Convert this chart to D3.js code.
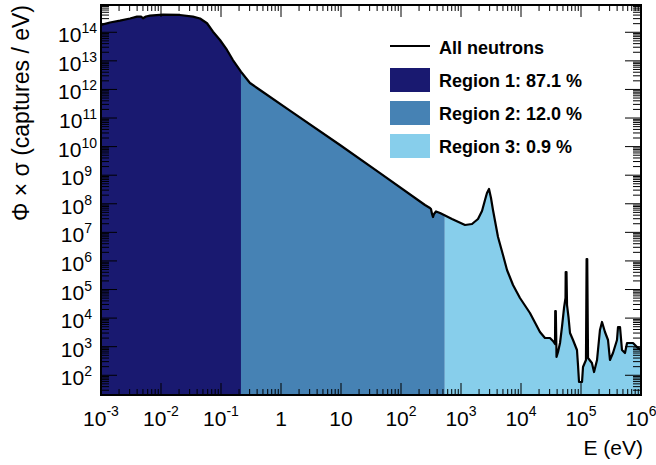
<!DOCTYPE html>
<html><head><meta charset="utf-8">
<script src="https://cdn.jsdelivr.net/npm/d3@7"></script>
<style>body{margin:0;background:#fff}svg{display:block}text{font-family:"Liberation Sans",Arial,Helvetica,sans-serif;fill:#000}</style>
</head><body><svg id="c" width="656" height="465"></svg>
<script>
// ---- data ----
const energyEV = [1.00e-3,1.41e-3,2.07e-3,3.04e-3,3.98e-3,4.65e-3,5.01e-3,5.62e-3,6.56e-3,1.08e-2,2.07e-2,3.41e-2,4.47e-2,5.85e-2,7.36e-2,9.62e-2,0.126,0.158,0.215,0.304,0.447,1.41,9.62,44.7,251,304,316,329,341,355,383,447,708,1167,1525,1920,2239,2512,2710,2930,3162,3412,4140,5012,5848,7362,9616,1.41e4,2.07e4,2.51e4,3.04e4,3.41e4,3.69e4,3.91e4,4.14e4,4.47e4,4.82e4,5.21e4,5.52e4,5.85e4,6.19e4,6.56e4,7.36e4,8.57e4,8.91e4,9.27e4,1.04e5,1.08e5,1.21e5,1.31e5,1.52e5,1.65e5,1.85e5,2.07e5,2.24e5,2.51e5,2.82e5,3.04e5,3.41e5,3.98e5,4.14e5,4.47e5,4.82e5,5.41e5,5.85e5,7.36e5,8.57e5,1.00e6];
const capturesPerEV = [1.80e14,2.20e14,2.55e14,3.04e14,3.52e14,3.57e14,3.09e14,3.57e14,3.81e14,4.13e14,4.03e14,3.52e14,3.04e14,2.07e14,1.05e14,5.37e13,2.40e13,1.07e13,4.17e12,1.68e12,9.55e11,1.81e11,1.14e10,1.19e9,9.06e7,7.11e7,6.56e7,4.39e7,3.44e7,4.39e7,5.37e7,4.75e7,2.93e7,1.81e7,1.96e7,2.93e7,5.58e7,1.36e8,2.38e8,3.29e8,1.59e8,6.05e7,6.89e6,1.61e6,4.82e5,1.44e5,5.05e4,1.51e4,3266,2014,2014,1581,1242,436,652,1346,4887,2.25e4,5.05e4,2.87e4,1.09e4,3013,1714,766,229,58.1,58.1,195,342,402,269,130,342,3837,7311,3266,1714,342,601,1714,4887,4887,766,601,1346,1346,975,766];
// narrow resonance spikes seen only in the "All neutrons" line
const spikeEnergyEV = [3.72e4,3.80e4,5.56e4,5.73e4,1.24e5,1.27e5];
const spikeValues   = [1.77e4,1.77e4,4.10e5,4.10e5,1.17e6,1.17e6];
const regionEdgesEV = [1e-3,0.215,537,1e6];
const regionLabels = ["Region 1: 87.1 %","Region 2: 12.0 %","Region 3: 0.9 %"];
const regionColors = ["#191970","#4682b4","#87ceeb"];
const lineLabel = "All neutrons";
const xMajorTicks = [1e-3,1e-2,1e-1,1,10,1e2,1e3,1e4,1e5,1e6];
const xTickLabels = [["10","-3"],["10","-2"],["10","-1"],["1",""],["10",""],["10","2"],["10","3"],["10","4"],["10","5"],["10","6"]];
const yMajorExponents = [2,3,4,5,6,7,8,9,10,11,12,13,14];
const xTitle = "E (eV)";
const yTitle = "\u03a6 \u00d7 \u03c3 (captures / eV)";

// ---- layout ----
const L=101,R=641,T=5,B=395;
const svg=d3.select("#c");
const x=d3.scaleLog().domain([1e-3,1e6]).range([L,R]);
const y=d3.scaleLog().domain([20.4,9.0e14]).range([B,T]);

const curve=energyEV.map((e,i)=>({E:e,v:capturesPerEV[i]}));
const lineData=curve.concat(spikeEnergyEV.map((e,i)=>({E:e,v:spikeValues[i]}))).sort((a,b)=>a.E-b.E);

const defs=svg.append("defs");
regionColors.forEach((c,i)=>{
  defs.append("clipPath").attr("id","reg"+i).append("rect")
    .attr("x",x(regionEdgesEV[i])).attr("y",T)
    .attr("width",x(regionEdgesEV[i+1])-x(regionEdgesEV[i])).attr("height",B-T);
});
const area=d3.area().x(d=>x(d.E)).y0(B).y1(d=>y(d.v));
regionColors.forEach((c,i)=>{
  svg.append("path").datum(curve).attr("d",area).attr("fill",c).attr("clip-path","url(#reg"+i+")");
});
defs.append("clipPath").attr("id","plot").append("rect").attr("x",L).attr("y",T).attr("width",R-L).attr("height",B-T);
svg.append("path").datum(lineData).attr("d",d3.line().x(d=>x(d.E)).y(d=>y(d.v)))
  .attr("fill","none").attr("stroke","#000").attr("stroke-width",2.2).attr("stroke-linejoin","round")
  .attr("clip-path","url(#plot)");

// ---- ticks ----
const xMinor=[];xMajorTicks.slice(0,-1).forEach(m=>{for(let k=2;k<10;k++)xMinor.push(m*k);});
const yMajor=yMajorExponents.map(n=>Math.pow(10,n));
const yMinor=[];for(let n=1;n<=14;n++)for(let k=2;k<10;k++){const v=k*Math.pow(10,n);if(v>=20.4&&v<=9e14)yMinor.push(v);}
const tk=svg.append("g").attr("stroke","#000").attr("stroke-width",1);
function tickX(vals,len){vals.forEach(v=>{const px=x(v);
  tk.append("line").attr("x1",px).attr("x2",px).attr("y1",B).attr("y2",B-len);
  tk.append("line").attr("x1",px).attr("x2",px).attr("y1",T).attr("y2",T+len);});}
function tickY(vals,len){vals.forEach(v=>{const py=y(v);
  tk.append("line").attr("x1",L).attr("x2",L+len).attr("y1",py).attr("y2",py);
  tk.append("line").attr("x1",R).attr("x2",R-len).attr("y1",py).attr("y2",py);});}
tickX(xMajorTicks,12);tickX(xMinor,6);tickY(yMajor,16);tickY(yMinor,8);

svg.append("rect").attr("x",L).attr("y",T).attr("width",R-L).attr("height",B-T)
  .attr("fill","none").attr("stroke","#000").attr("stroke-width",2);

// ---- labels ----
xMajorTicks.forEach((v,i)=>{
  const t=svg.append("text").attr("x",x(v)).attr("y",426).attr("text-anchor","middle").attr("font-size",21);
  t.append("tspan").text(xTickLabels[i][0]);
  if(xTickLabels[i][1])t.append("tspan").attr("dy",-10).attr("font-size",14).text(xTickLabels[i][1]);
});
yMajorExponents.forEach(n=>{
  const s=String(n);
  const t=svg.append("text").attr("x",92+5*(s.length-1)).attr("y",y(Math.pow(10,n))+10).attr("text-anchor","end").attr("font-size",21);
  t.append("tspan").text("10");
  t.append("tspan").attr("dy",-9).attr("font-size",14).text(s);
});
svg.append("text").attr("x",643).attr("y",455).attr("text-anchor","end").attr("font-size",21).text(xTitle);
svg.append("text").attr("transform","translate(29,5) rotate(-90)").attr("text-anchor","end").attr("font-size",23).text(yTitle);

// ---- legend ----
const lg=svg.append("g").attr("font-weight","bold").attr("font-size",18);
lg.append("line").attr("x1",390).attr("x2",430).attr("y1",46).attr("y2",46).attr("stroke","#000").attr("stroke-width",2);
lg.append("text").attr("x",439).attr("y",54).text(lineLabel);
regionLabels.forEach((lab,i)=>{
  const by=54+33*(i+1);
  lg.append("rect").attr("x",390).attr("y",by-19).attr("width",40).attr("height",24).attr("fill",regionColors[i]);
  lg.append("text").attr("x",439).attr("y",by).text(lab);
});
</script></body></html>
